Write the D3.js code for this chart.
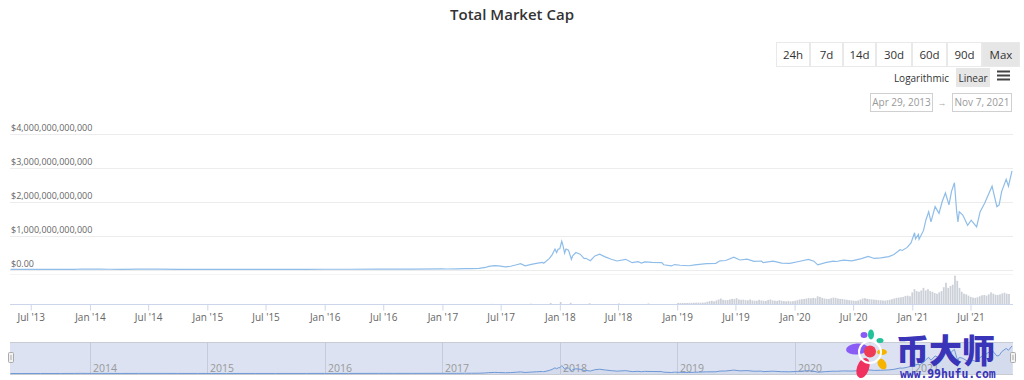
<!DOCTYPE html>
<html><head><meta charset="utf-8">
<script src="https://cdn.jsdelivr.net/npm/d3@7"></script>
<style>
html,body{margin:0;padding:0;background:#fff;}
svg{display:block;font-family:"Open Sans","Noto Sans",sans-serif;}
</style></head>
<body><svg id="c" width="1024" height="380"></svg>
<script>
// ---------- DATA ----------
const title = "Total Market Cap";
const rangeButtons = ["24h","7d","14d","30d","60d","90d","Max"];
const scaleButtons = ["Logarithmic","Linear"];
const dateFrom = "Apr 29, 2013", dateTo = "Nov 7, 2021";
const yTickValues = [0, 1e12, 2e12, 3e12, 4e12];
const yTickLabels = ["$0.00","$1,000,000,000,000","$2,000,000,000,000","$3,000,000,000,000","$4,000,000,000,000"];
const navYears = ["2014","2015","2016","2017","2018","2019","2020","2021"];

// market cap (billions USD)
const capDates = ["2013-04-29","2013-06-01","2013-08-01","2013-10-01","2013-11-15","2013-12-04","2013-12-20","2014-01-05","2014-02-01","2014-03-01","2014-04-10","2014-06-01","2014-08-01","2014-10-01","2014-12-01","2015-01-15","2015-03-01","2015-06-01","2015-08-01","2015-11-05","2016-01-01","2016-03-15","2016-06-17","2016-08-01","2016-10-01","2016-12-31",
"2017-01-15","2017-02-15","2017-03-10","2017-04-01","2017-04-25","2017-05-15","2017-05-25","2017-06-12","2017-06-25","2017-07-16","2017-08-01","2017-08-20","2017-09-01","2017-09-15","2017-10-01","2017-10-20","2017-11-08","2017-11-12","2017-11-29","2017-12-08","2017-12-17","2017-12-22","2017-12-27",
"2018-01-01","2018-01-07","2018-01-10","2018-01-16","2018-01-20","2018-01-28","2018-02-06","2018-02-10","2018-02-20","2018-03-05","2018-03-18","2018-03-23","2018-04-06","2018-04-20","2018-05-05","2018-05-20","2018-06-10","2018-06-28","2018-07-25","2018-08-14","2018-09-01","2018-09-12","2018-09-22","2018-10-15","2018-11-14","2018-11-20","2018-12-14","2018-12-24",
"2019-01-10","2019-02-06","2019-02-25","2019-04-02","2019-05-01","2019-05-14","2019-06-01","2019-06-26","2019-07-15","2019-08-06","2019-08-28","2019-09-20","2019-09-25","2019-10-26","2019-11-22","2019-12-17",
"2020-01-14","2020-02-13","2020-03-01","2020-03-13","2020-04-06","2020-04-30","2020-05-10","2020-06-01","2020-06-27","2020-07-27","2020-08-17","2020-09-05","2020-09-25","2020-10-20","2020-11-05","2020-11-24","2020-12-01","2020-12-16","2020-12-28",
"2021-01-08","2021-01-11","2021-01-20","2021-01-22","2021-02-05","2021-02-12","2021-02-21","2021-02-28","2021-03-13","2021-03-25","2021-04-04","2021-04-14","2021-04-25","2021-05-03","2021-05-12","2021-05-19","2021-05-23","2021-05-27","2021-06-07","2021-06-22","2021-07-03","2021-07-20","2021-07-31","2021-08-14","2021-08-23","2021-09-06","2021-09-21","2021-09-28","2021-10-06","2021-10-20","2021-10-27","2021-11-07"];
const capValues = [1.6,1.4,1.3,1.8,5,15,9,11,11,8,6,9,8.5,5.5,5,3.5,4,3.6,4,6,7,8,12,11,12,17.7,
15,18,24,26,32,60,90,115,105,80,95,140,170,110,145,180,210,185,320,430,600,500,600,
610,830,740,480,600,570,300,400,500,450,320,330,260,400,450,380,300,250,300,200,230,190,225,210,200,140,105,145,
125,110,135,175,180,255,265,360,280,305,240,250,200,245,190,180,
235,295,245,135,200,245,235,275,255,320,385,325,340,380,440,580,560,650,780,
1080,900,1030,890,1150,1450,1700,1400,1850,1650,2000,2250,1900,2300,2550,1700,1400,1700,1600,1300,1450,1250,1700,1950,2150,2450,1850,1900,2300,2650,2450,2900];

// 24h volume (billions USD): early months, then weekly from 2019-01-01
const volEarlyDates = ["2013-05-01","2013-12-01","2014-06-01","2015-06-01","2016-06-01","2017-01-01","2017-06-01","2017-10-01","2017-12-01","2018-01-01","2018-02-01","2018-04-01","2018-07-01","2018-10-01"];
const volEarlyValues = [0.05,0.5,0.3,0.2,0.3,0.5,2,5,15,30,18,12,8,8];
const volWeeklyStart = "2019-01-01";
const volWeeklyValues = [
16,15,17,16,16, 17,18,19,20, 21,20,22,23, 35,45,50,42, 55,70,85,65, 60,62,70,80, 75,90,70,65,68, 60,58,70,55, 52,50,65,55, 50,48,62,70,55, 52,48,60,50, 45,42,48,40,44,
50,60,70,75,78, 85,92,88,95, 90,120,110,95, 85,80,78,90, 100,95,85,80,78, 70,65,60,55, 52,48,55,70, 85,90,80,75, 72,68,65,60,58, 55,52,60,65, 75,85,95,100, 105,110,125,130,120,
180,230,200,190,210, 250,210,230,200, 190,170,160,180, 200,260,330,250, 280,300,440,360,250, 190,160,150,130, 110,100,95,105, 120,135,140,130, 150,180,160,145, 140,150,165,175,160, 155];

// ---------- CHART ----------
const svg = d3.select("#c");
const parse = d3.timeParse("%Y-%m-%d");
const cap = capDates.map((d,i)=>({date:parse(d), v:capValues[i]*1e9}));
const wStart = parse(volWeeklyStart);
const vol = volEarlyDates.map((d,i)=>({date:parse(d), v:volEarlyValues[i]*1e9}))
  .concat(volWeeklyValues.map((v,i)=>({date:d3.timeDay.offset(wStart,7*i), v:v*1e9})));
const t0 = parse("2013-04-29"), t1 = parse("2021-11-07");

const x = d3.scaleTime().domain([t0,t1]).range([10.5,1012]);
const y = d3.scaleLinear().domain([0,4e12]).range([269.5,133.5]);
const yv = d3.scaleLinear().domain([0,450e9]).range([304,275]);

// title
svg.append("text").attr("x",512).attr("y",20).attr("text-anchor","middle")
  .attr("font-size",15).attr("font-weight",600).attr("fill","#333").text(title);

// range buttons
const btnEdges = [776,810,843,876,912,947,982,1020];
const bg = svg.append("g");
rangeButtons.forEach((b,i)=>{
  const x0=btnEdges[i], w=btnEdges[i+1]-btnEdges[i];
  bg.append("rect").attr("x",x0+0.5).attr("y",42.5).attr("width",w-1).attr("height",24)
    .attr("fill", b==="Max" ? "#e6e6e6" : "#fff").attr("stroke","#e9e9e9");
  bg.append("text").attr("x",x0+w/2).attr("y",59).attr("text-anchor","middle")
    .attr("font-size",11.5).attr("fill","#333").text(b);
});
// log / linear
svg.append("text").attr("x",949).attr("y",81.5).attr("text-anchor","end")
  .attr("font-size",10).attr("fill","#333").text(scaleButtons[0]);
svg.append("rect").attr("x",956).attr("y",68).attr("width",34).attr("height",19).attr("fill","#e6e6e6");
svg.append("text").attr("x",973).attr("y",81.5).attr("text-anchor","middle")
  .attr("font-size",10).attr("fill","#333").text(scaleButtons[1]);
[71.5,75.5,79.5].forEach(yy=>svg.append("line").attr("x1",997).attr("x2",1010).attr("y1",yy).attr("y2",yy)
  .attr("stroke","#444").attr("stroke-width",2));
// date inputs
svg.append("rect").attr("x",870.5).attr("y",93.5).attr("width",62).attr("height",18).attr("fill","#fff").attr("stroke","#d0d0d0");
svg.append("text").attr("x",901.5).attr("y",106).attr("text-anchor","middle").attr("font-size",10).attr("fill","#999").text(dateFrom);
svg.append("text").attr("x",942).attr("y",105.5).attr("text-anchor","middle").attr("font-size",9).attr("fill","#aaa").text("→");
svg.append("rect").attr("x",952.5).attr("y",93.5).attr("width",59).attr("height",18).attr("fill","#fff").attr("stroke","#d0d0d0");
svg.append("text").attr("x",982).attr("y",106).attr("text-anchor","middle").attr("font-size",10).attr("fill","#999").text(dateTo);

// y grid + labels
yTickValues.forEach((v,i)=>{
  svg.append("line").attr("x1",10).attr("x2",1013).attr("y1",Math.round(y(v))+0.5).attr("y2",Math.round(y(v))+0.5)
    .attr("stroke","#ececec");
  svg.append("text").attr("x",11).attr("y",y(v)-2.5).attr("font-size",9).attr("fill","#666").text(yTickLabels[i]);
});
svg.append("line").attr("x1",10).attr("x2",1013).attr("y1",274.5).attr("y2",274.5).attr("stroke","#f4f4f4");

// volume bars
svg.append("g").selectAll("rect").data(vol).join("rect")
  .attr("x",d=>x(d.date))
  .attr("width",(d,i)=>{const nx = i<vol.length-1 ? x(vol[i+1].date) : x(t1); return Math.max(Math.min(nx-x(d.date),2.25)-0.5,0.5);})
  .attr("y",d=>yv(d.v)).attr("height",d=>304-yv(d.v))
  .attr("fill","#c3c8d1").attr("opacity",0.85);

// market cap line
const line = d3.line().x(d=>x(d.date)).y(d=>y(d.v));
svg.append("path").datum(cap).attr("d",line).attr("fill","none").attr("stroke","#8fbde9").attr("stroke-width",1.2);

// x axis
const xAxisG = svg.append("g").attr("transform","translate(0,304.5)");
const ticks = d3.timeMonth.every(6).range(t0,t1).filter(d=>d.getMonth()===0||d.getMonth()===6);
xAxisG.append("line").attr("x1",10).attr("x2",1013).attr("stroke","#ccd6eb");
xAxisG.call(d3.axisBottom(x).tickValues(ticks).tickFormat(d3.timeFormat("%b '%y")).tickSize(6).tickSizeOuter(0));
xAxisG.select(".domain").remove();
xAxisG.selectAll(".tick line").attr("stroke","#ccd6eb");
xAxisG.selectAll(".tick text").attr("font-size",10).attr("fill","#666").attr("font-family","Open Sans");

// navigator
const ny = d3.scaleLinear().domain([0,2.9e12]).range([373.5,346]);
svg.append("rect").attr("x",10).attr("y",342.5).attr("width",1003).attr("height",31.5).attr("fill","#dce2f1");
svg.append("line").attr("x1",10).attr("x2",1013).attr("y1",342.5).attr("y2",342.5).attr("stroke","#c8cbd2");
svg.append("line").attr("x1",10).attr("x2",1013).attr("y1",374.5).attr("y2",374.5).attr("stroke","#c8cbd2");
navYears.forEach(yr=>{
  const xx = Math.round(x(parse(yr+"-01-01")))+0.5;
  svg.append("line").attr("x1",xx).attr("x2",xx).attr("y1",343).attr("y2",374).attr("stroke","#c5cbdb");
  svg.append("text").attr("x",xx+2.5).attr("y",372).attr("font-size",10.5).attr("fill","#999").text(yr);
});
const narea = d3.area().x(d=>x(d.date)).y0(374).y1(d=>ny(d.v));
svg.append("path").datum(cap).attr("d",narea).attr("fill","#335cad").attr("opacity",0.05);
svg.append("path").datum(cap).attr("d",d3.line().x(d=>x(d.date)).y(d=>ny(d.v))).attr("fill","none").attr("stroke","#6f98d6").attr("stroke-width",1);
[8.5,1010.5].forEach(hx=>{
  svg.append("rect").attr("x",hx).attr("y",352.5).attr("width",5).attr("height",10).attr("fill","#f2f2f2").attr("stroke","#aaa").attr("rx",1);
  svg.append("line").attr("x1",hx+2.5).attr("x2",hx+2.5).attr("y1",355).attr("y2",360).attr("stroke","#aaa");
});

// watermark
const wm = svg.append("g");
wm.append("ellipse").attr("cx",857).attr("cy",349).attr("rx",11).attr("ry",5.5).attr("fill","#8a5cf6").attr("transform","rotate(-5,857,349)");
wm.append("ellipse").attr("cx",864).attr("cy",335).attr("rx",3.5).attr("ry",3).attr("fill","#8a5cf6");
wm.append("ellipse").attr("cx",871).attr("cy",334.5).attr("rx",3).attr("ry",5).attr("fill","#22c39a");
wm.append("ellipse").attr("cx",880).attr("cy",340.5).attr("rx",3.5).attr("ry",2.5).attr("fill","#22c39a");
wm.append("ellipse").attr("cx",882).attr("cy",352).attr("rx",5).attr("ry",3).attr("fill","#f6b300");
wm.append("ellipse").attr("cx",882).attr("cy",364).attr("rx",4).attr("ry",6).attr("fill","#f6b300").attr("transform","rotate(-30,882,364)");
wm.append("ellipse").attr("cx",863).attr("cy",368).attr("rx",6).attr("ry",10.5).attr("fill","#f0305f").attr("transform","rotate(20,863,368)");
wm.append("circle").attr("cx",870).attr("cy",352).attr("r",11).attr("fill","none").attr("stroke","#fff").attr("stroke-width",2);
wm.append("circle").attr("cx",870).attr("cy",351.5).attr("r",6).attr("fill","#ef3b55");
wm.append("text").attr("x",896).attr("y",363).attr("font-family","Noto Sans CJK SC").attr("font-weight",900)
  .attr("font-size",33).attr("fill","#3934b8").text("币大师");
wm.append("text").attr("x",900).attr("y",378).attr("font-family","DejaVu Sans Mono").attr("font-weight","bold")
  .attr("font-size",11.5).attr("letter-spacing",-0.1).attr("fill","#3934b8").text("www.99hufu.com");
</script></body></html>
